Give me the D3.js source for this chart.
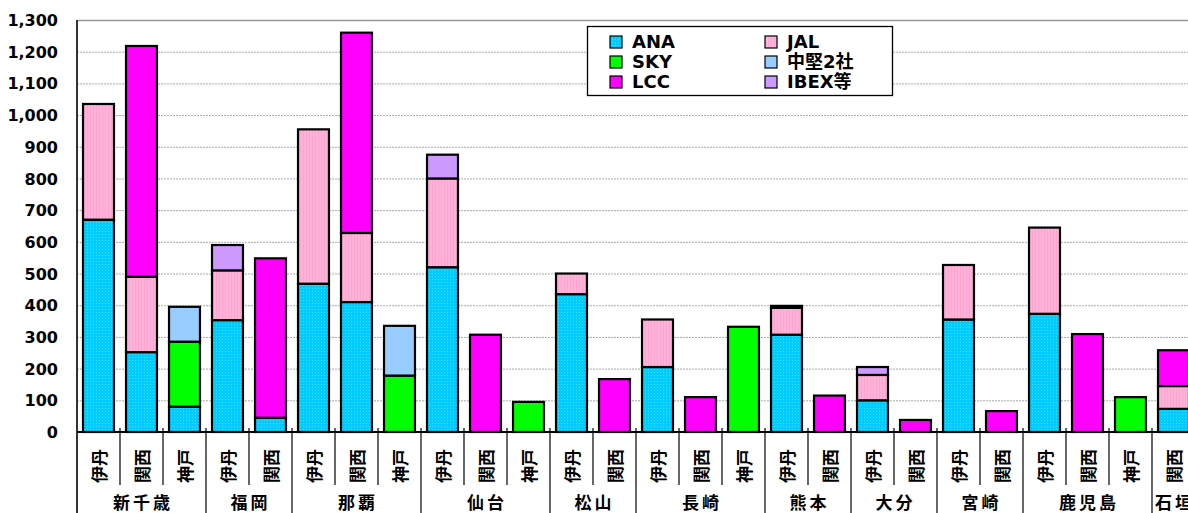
<!DOCTYPE html>
<html>
<head>
<meta charset="utf-8">
<script src="https://cdn.jsdelivr.net/npm/d3@7/dist/d3.min.js"></script>
<style>
  html, body { margin: 0; padding: 0; background: #fff; overflow: hidden; }
  svg { display: block; }
</style>
</head>
<body>
<svg id="chart" width="1188" height="513"></svg>
<script>
// Departure airport (bottom tier) and destination group (top tier) for each bar
const airports = ["新千歳","新千歳","新千歳","福岡","福岡","那覇","那覇","那覇","仙台","仙台","仙台","松山","松山","長崎","長崎","長崎","熊本","熊本","大分","大分","宮崎","宮崎","鹿児島","鹿児島","鹿児島","石垣"];
const origins  = ["伊丹","関西","神戸","伊丹","関西","伊丹","関西","神戸","伊丹","関西","神戸","伊丹","関西","伊丹","関西","神戸","伊丹","関西","伊丹","関西","伊丹","関西","伊丹","関西","神戸","関西"];

// Seats / flights per carrier group
const ana   = [670,252, 80,353, 45,468,410,  0,520,  0,  0,435,  0,205,  0,  0,307,  0,100,  0,355,  0,373,  0,  0, 73];
const jal   = [365,238,  0,157,  0,487,218,  0,280,  0,  0, 65,  0,150,  0,  0, 85,  0, 80,  0,172,  0,272,  0,  0, 72];
const sky   = [  0,  0,205,  0,  0,  0,  0,178,  0,  0, 95,  0,  0,  0,  0,332,  0,  0,  0,  0,  0,  0,  0,  0,110,  0];
const chuken= [  0,  0,110,  0,  0,  0,  0,157,  0,  0,  0,  0,  0,  0,  0,  0,  0,  0,  0,  0,  0,  0,  0,  0,  0,  0];
const lcc   = [  0,728,  0,  0,503,  0,632,  0,  0,307,  0,  0,167,  0,110,  0,  0,115,  0, 38,  0, 66,  0,309,  0,113];
const ibex  = [  0,  0,  0, 80,  0,  0,  0,  0, 75,  0,  0,  0,  0,  0,  0,  0,  6,  0, 25,  0,  0,  0,  0,  0,  0,  0];

const seriesNames = ["ANA","JAL","SKY","中堅2社","LCC","IBEX等"];
const yTicks = [0,100,200,300,400,500,600,700,800,900,1000,1100,1200,1300];

const colors = {
  "ANA": "url(#patANA)",
  "JAL": "url(#patJAL)",
  "SKY": "#00FF00",
  "中堅2社": "#99CCFF",
  "LCC": "#FF00FF",
  "IBEX等": "#CC99FF"
};

const svg = d3.select("#chart");
const left = 77, zeroY = 432, topY = 20, step = 43;
const n = origins.length;

// Fill textures
const defs = svg.append("defs");
const pA = defs.append("pattern").attr("id","patANA").attr("patternUnits","userSpaceOnUse").attr("width",3).attr("height",3);
pA.append("rect").attr("width",3).attr("height",3).attr("fill","#00CCFF");
pA.append("rect").attr("width",1).attr("height",1).attr("fill","#40E0FF");
const pJ = defs.append("pattern").attr("id","patJAL").attr("patternUnits","userSpaceOnUse").attr("width",3).attr("height",3);
pJ.append("rect").attr("width",3).attr("height",3).attr("fill","#FFB3D9");
pJ.append("rect").attr("width",1).attr("height",3).attr("fill","#FFA3CF");

const idx = d3.range(n);
const x = d3.scaleBand().domain(idx).range([left, left + n * step]).paddingInner(0.28).paddingOuter(0.14);
const y = d3.scaleLinear().domain([0, 1300]).range([zeroY, topY]);

// Gridlines
svg.append("g").selectAll("line").data(yTicks.filter(t => t > 0)).join("line")
  .attr("x1", left).attr("x2", 1188)
  .attr("y1", d => y(d) + 0.5).attr("y2", d => y(d) + 0.5)
  .attr("stroke", d => d === 1300 ? "#999" : "#aaa")
  .attr("stroke-width", d => d === 1300 ? 1.5 : 1)
  .attr("stroke-dasharray", d => d === 1300 ? null : "2,1");

// Y axis labels
const yAxis = d3.axisLeft(y).tickValues(yTicks).tickSize(0).tickPadding(0).tickFormat(d3.format(","));
const ya = svg.append("g").attr("transform", `translate(58,0)`).call(yAxis);
ya.select(".domain").remove();
ya.selectAll("text")
  .attr("font-family", "'DejaVu Sans', sans-serif")
  .attr("font-weight", "bold").attr("font-size", 16).attr("fill", "#000")
  .attr("dy", "0.35em");

// Stacked bars
const table = idx.map(i => ({
  i, "ANA": ana[i], "JAL": jal[i], "SKY": sky[i], "中堅2社": chuken[i], "LCC": lcc[i], "IBEX等": ibex[i]
}));
const stacked = d3.stack().keys(seriesNames)(table);
const barG = svg.append("g");
stacked.forEach(s => {
  barG.append("g").selectAll("rect")
    .data(s.filter(d => d[1] - d[0] > 0))
    .join("rect")
    .attr("x", d => x(d.data.i))
    .attr("width", x.bandwidth())
    .attr("y", d => y(d[1]))
    .attr("height", d => y(d[0]) - y(d[1]))
    .attr("fill", colors[s.key])
    .attr("stroke", "#000")
    .attr("stroke-width", 2.2);
});

// Axes lines
svg.append("line").attr("x1", left).attr("x2", left).attr("y1", topY).attr("y2", 513)
  .attr("stroke", "#333").attr("stroke-width", 2);
svg.append("line").attr("x1", left).attr("x2", 1188).attr("y1", zeroY).attr("y2", zeroY)
  .attr("stroke", "#000").attr("stroke-width", 2.2);

// Category separators: short between bars, long between groups
const sepG = svg.append("g");
idx.slice(1).forEach(i => {
  const xs = left + i * step;
  const groupBreak = airports[i] !== airports[i - 1];
  sepG.append("line")
    .attr("x1", xs).attr("x2", xs)
    .attr("y1", 428).attr("y2", groupBreak ? 513 : 485)
    .attr("stroke", "#000").attr("stroke-width", 1.2);
});

// Departure airport labels (rotated)
svg.append("g").selectAll("text").data(idx).join("text")
  .attr("transform", i => `translate(${x(i) + x.bandwidth() / 2 + 1},466) rotate(-90)`)
  .attr("text-anchor", "middle").attr("dy", "0.36em")
  .attr("font-family", "'Noto Sans CJK JP', sans-serif")
  .attr("font-weight", "bold").attr("font-size", 17)
  .text(i => origins[i]);

// Destination group labels
const groups = [];
idx.forEach(i => {
  const g = groups.length ? groups[groups.length - 1] : null;
  if (g && g.name === airports[i]) g.end = i; else groups.push({ name: airports[i], start: i, end: i });
});
svg.append("g").selectAll("text").data(groups).join("text")
  .attr("x", g => left + (g.start + g.end + 1) / 2 * step + 1.5)
  .attr("y", 503).attr("dy", "0.36em")
  .attr("text-anchor", "middle")
  .attr("font-family", "'Noto Sans CJK JP', sans-serif")
  .attr("font-weight", "bold").attr("font-size", 17)
  .attr("letter-spacing", 3)
  .text(g => g.name);

// Legend
const lg = svg.append("g");
lg.append("rect").attr("x", 587.5).attr("y", 26.5).attr("width", 305).attr("height", 69)
  .attr("fill", "#fff").attr("stroke", "#000").attr("stroke-width", 1.3);
const legendOrder = [["ANA",0,0],["SKY",0,1],["LCC",0,2],["JAL",1,0],["中堅2社",1,1],["IBEX等",1,2]];
legendOrder.forEach(([name, col, row]) => {
  const lx = 610 + col * 155, ly = 42 + row * 20;
  lg.append("rect").attr("x", lx).attr("y", ly - 6).attr("width", 12).attr("height", 12)
    .attr("fill", colors[name]).attr("stroke", "#000").attr("stroke-width", 1.2);
  lg.append("text").attr("x", lx + 22).attr("y", ly).attr("dy", "0.36em")
    .attr("font-family", "'DejaVu Sans', 'Noto Sans CJK JP', sans-serif")
    .attr("font-weight", "bold").attr("font-size", 18)
    .text(name);
});
</script>
</body>
</html>
